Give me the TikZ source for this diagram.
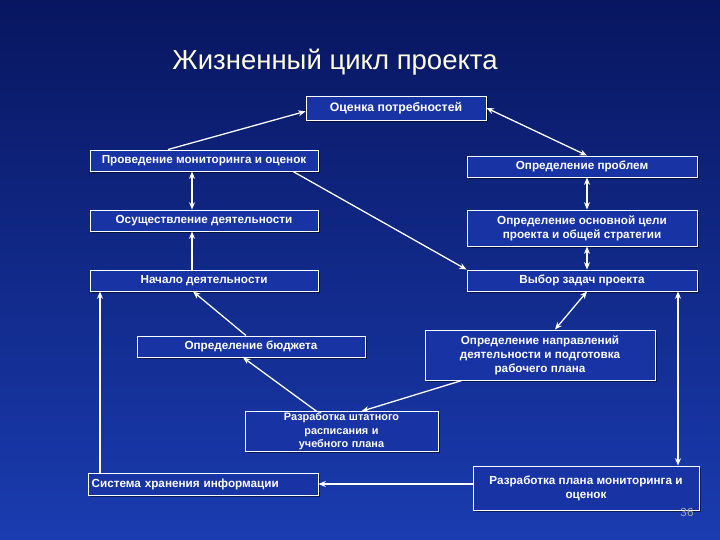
\documentclass[tikz,border=0pt]{standalone}
\usepackage{fontspec}
\setmainfont{Liberation Sans}
\usetikzlibrary{arrows.meta,shadows}
\definecolor{bgtop}{HTML}{081660}
\definecolor{bgbot}{HTML}{1A3CB0}
\definecolor{boxfill}{HTML}{1834A4}
\tikzset{
  box/.style={draw=white,fill=boxfill,text=white,font=\fontsize{10}{12}\selectfont\bfseries,
    align=center,inner sep=1pt,line width=0.8pt,
    drop shadow={shadow xshift=0.06cm,shadow yshift=-0.06cm,fill=black,opacity=0.5}},
  link/.style={draw=white,line width=1.1pt},
  tip/.style={-{Stealth[length=2.2mm,width=1.8mm]}},
  tips/.style={{Stealth[length=2.2mm,width=1.8mm]}-{Stealth[length=2.2mm,width=1.8mm]}}
}
\begin{document}
\begin{tikzpicture}
\shade[top color=bgtop,bottom color=bgbot] (0,0) rectangle (21.6,-16.2);
\useasboundingbox (0,0) rectangle (21.6,-16.2);

\node[text=white!88!yellow,font=\fontsize{23.5}{28}\selectfont] (title) at (10.05,-1.86) {Жизненный цикл проекта};

\node[box,minimum width=5.4cm,minimum height=0.72cm,font=\fontsize{10.5}{12}\selectfont\bfseries] (ocen) at (11.88,-3.24) {Оценка потребностей};
\node[box,minimum width=6.84cm,minimum height=0.63cm] (prov) at (6.12,-4.815) {Проведение мониторинга и оценок};
\node[box,minimum width=6.9cm,minimum height=0.63cm] (probl) at (17.46,-4.995) {Определение проблем};
\node[box,minimum width=6.84cm,minimum height=0.63cm] (osush) at (6.12,-6.615) {Осуществление деятельности};
\node[box,minimum width=6.9cm,minimum height=1.08cm] (celi) at (17.46,-6.84) {Определение основной цели\\проекта и общей стратегии};
\node[box,minimum width=6.84cm,minimum height=0.63cm] (nach) at (6.12,-8.415) {Начало деятельности};
\node[box,minimum width=6.9cm,minimum height=0.63cm] (vybor) at (17.46,-8.415) {Выбор задач проекта};
\node[box,minimum width=6.84cm,minimum height=0.63cm] (budg) at (7.53,-10.395) {Определение бюджета};
\node[box,minimum width=6.9cm,minimum height=1.5cm] (napr) at (16.2,-10.65) {Определение направлений\\деятельности и подготовка\\рабочего плана};
\node[box,minimum width=5.79cm,minimum height=1.11cm,text width=5.7cm,font=\fontsize{9.3}{11.5}\selectfont\bfseries] (shtat) at (10.245,-12.945) {Разработка штатного расписания и\\учебного плана};
\node[box,minimum width=6.9cm,minimum height=0.66cm,text width=6.8cm,align=left] (sist) at (6.09,-14.52) {\,Система хранения информации};
\node[box,minimum width=6.78cm,minimum height=1.32cm] (plan) at (17.58,-14.64) {Разработка плана мониторинга и\\оценок};
\node[text=gray!70,font=\fontsize{10}{12}\selectfont] (page) at (20.61,-15.36) {36};

% connectors
\draw[link,tip] ([xshift=-1.08cm]prov.north) -- ([yshift=-0.1cm]ocen.west);
\draw[link,tips] (ocen.east) -- ([xshift=0.15cm]probl.north);
\draw[link,tip] ([xshift=2.67cm]prov.south) -- (vybor.north west);
\draw[link,tips] ([xshift=-0.36cm]prov.south) -- ([xshift=-0.36cm]osush.north);
\draw[link,tip] ([xshift=-0.36cm]nach.north) -- ([xshift=-0.36cm]osush.south);
\draw[link,tips] ([xshift=0.15cm]probl.south) -- ([xshift=0.15cm]celi.north);
\draw[link,tips] ([xshift=0.15cm]celi.south) -- ([xshift=0.15cm]vybor.north);
\draw[link,tips] ([xshift=0.15cm]vybor.south) -- ([xshift=0.45cm]napr.north);
\draw[link,tip] ([xshift=-0.15cm]budg.north) -- ([xshift=-0.33cm]nach.south);
\draw[link,tip] ([xshift=-0.75cm]shtat.north) -- ([xshift=-0.24cm]budg.south);
\draw[link,tip] ([xshift=-2.34cm]napr.south) -- ([xshift=0.6cm]shtat.north);
\draw[link,tips] ([xshift=2.88cm]vybor.south) -- ([xshift=2.88cm]vybor.south |- plan.north);
\draw[link,tip] ([xshift=-3.09cm]sist.north) -- ([xshift=-3.09cm]sist.north |- nach.south);
\draw[link,tip] (plan.west |- sist.east) -- (sist.east);
\end{tikzpicture}
\end{document}
